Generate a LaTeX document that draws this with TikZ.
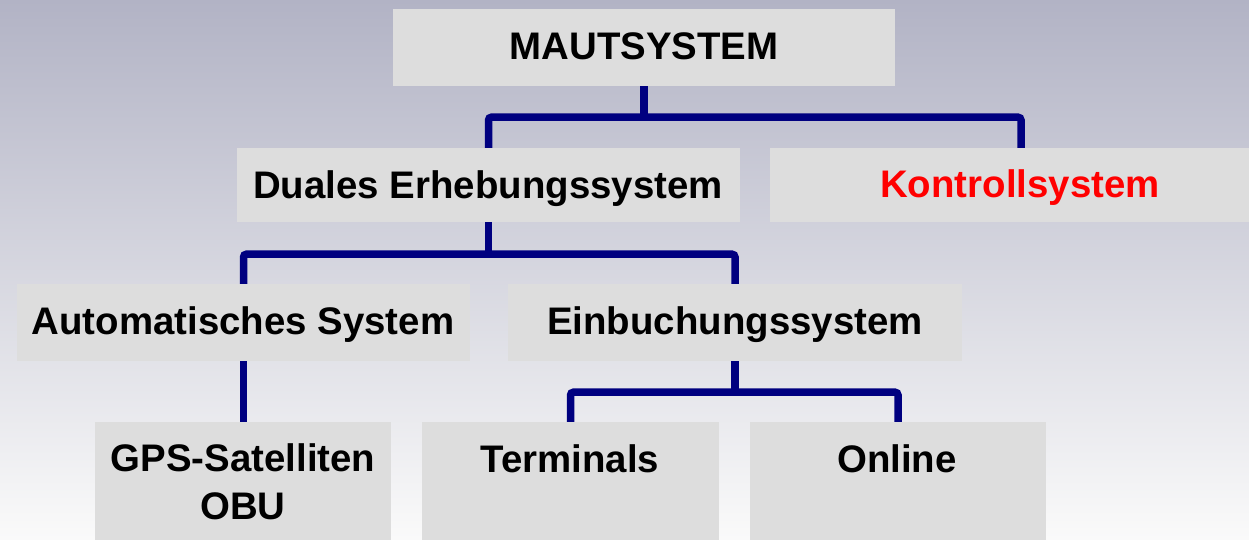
\documentclass[tikz,border=0pt]{standalone}
\usepackage{fontspec}
\setmainfont{Liberation Sans}
\definecolor{bgtop}{RGB}{178,179,197}
\definecolor{bgbot}{RGB}{250,250,250}
\definecolor{boxgray}{RGB}{221,221,221}
\definecolor{linkblue}{RGB}{0,0,128}
\begin{document}
\begin{tikzpicture}[x=1pt,y=-1pt,
  box/.style={fill=boxgray,draw=none,inner sep=0pt,minimum width=#1},
  lbl/.style={inner sep=0pt,font=\fontsize{38.4}{48}\selectfont\bfseries,align=center},
  conn/.style={draw=linkblue,line width=7.5pt,rounded corners=3pt}]
\useasboundingbox (0,0) rectangle (1249,539);
\clip (0,0) rectangle (1249,539);
% backdrop
\shade[top color=bgtop,bottom color=bgbot] (0,0) rectangle (1249,539);

% boxes
\node[box=502,minimum height=77] (maut) at (644,47.5) {};
\node[box=503,minimum height=74] (duales) at (488.5,185) {};
\node[box=502,minimum height=74] (kontroll) at (1021,185) {};
\node[box=453,minimum height=77] (auto) at (243.5,322.5) {};
\node[box=454,minimum height=77] (einb) at (735,322.5) {};
\node[box=296,minimum height=148] (gps) at (243,496) {};
\node[box=297,minimum height=148] (term) at (570.5,496) {};
\node[box=296,minimum height=148] (online) at (898,496) {};

% labels
\node[lbl,anchor=base] (mautL) at (644,59) {MAUTSYSTEM};
\node[lbl,anchor=base] (dualesL) at (488,198) {Duales Erhebungssystem};
\node[lbl,anchor=base,text=red] (kontrollL) at (1020,197) {Kontrollsystem};
\node[lbl,anchor=base] (autoL) at (243,334) {Automatisches System};
\node[lbl,anchor=base] (einbL) at (735,334) {Einbuchungssystem};
\node[lbl,anchor=north] (gpsL) at (243,443) {GPS-Satelliten\\OBU};
\node[lbl,anchor=base] (termL) at (570,472) {Terminals};
\node[lbl,anchor=base] (onlineL) at (897,472) {Online};

% junction points
\path (maut.south) ++(0,31) coordinate (j1);
\path (duales.south) ++(0,32) coordinate (j2);
\path (einb.south) ++(0,31) coordinate (j3);

% connectors
\draw[conn] (maut.south) -- (j1);
\draw[conn] (duales.north) |- (j1) -| (kontroll.north);
\draw[conn] (duales.south) -- (j2);
\draw[conn] (auto.north) |- (j2) -| (einb.north);
\draw[conn] (auto.south) -- (auto.south |- gps.north);
\draw[conn] (einb.south) -- (j3);
\draw[conn] (term.north) |- (j3) -| (online.north);
\end{tikzpicture}
\end{document}
